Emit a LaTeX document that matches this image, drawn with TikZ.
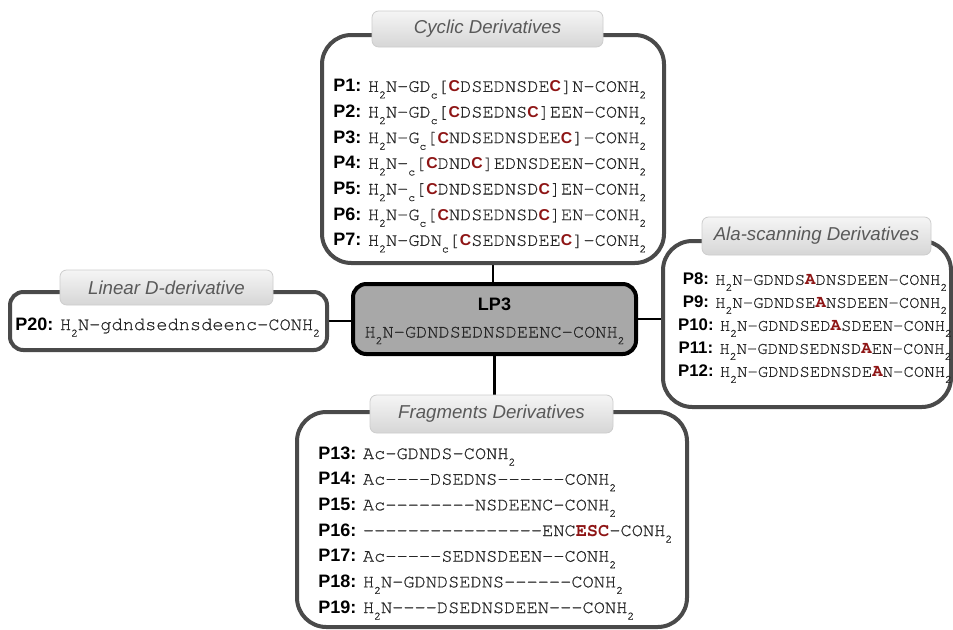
\documentclass[tikz,border=0pt]{standalone}
\usepackage{fontspec}
\setsansfont{Liberation Sans}
\newfontfamily\seqfont{texgyrecursor}[Extension=.otf,UprightFont=*-regular,BoldFont=*-bold,UprightFeatures={FakeBold=0.7}]
\usetikzlibrary{fit}
\definecolor{bord}{HTML}{4A4A4A}
\definecolor{dred}{HTML}{8E1515}
\definecolor{seqc}{HTML}{262626}
\definecolor{ttl}{HTML}{595959}
\definecolor{tabtop}{HTML}{F5F5F5}
\definecolor{tabbot}{HTML}{D6D6D6}
\definecolor{tabline}{HTML}{CDCDCD}
\definecolor{hubfill}{HTML}{A8A8A8}
\newcommand\seqsz{14}
\newcommand\seqtxt[1]{{\seqfont\mdseries\fontsize{\seqsz}{18}\selectfont\color{seqc}#1}}
\newcommand\subx[1]{\raisebox{-0.35em}{\fontsize{8.5}{8.5}\selectfont #1}}
\newcommand\redC{{\sffamily\bfseries\fontsize{11.8}{14}\selectfont\color{dred}C}}
\newcommand\redB[1]{{\bfseries\color{dred}#1}}
\pgfdeclarelayer{bg}
\pgfsetlayers{bg,main}
\begin{document}
\begin{tikzpicture}[x=0.75pt,y=-0.75pt,
  grp/.style={draw=bord,line width=3pt,fill=white,inner sep=0pt,rounded corners=22pt},
  tabbox/.style={draw=tabline,line width=0.6pt,rounded corners=5pt,top color=tabtop,bottom color=tabbot,inner sep=0pt},
  tabtitle/.style={inner sep=0pt,font=\sffamily\itshape\fontsize{14}{16}\selectfont,text=ttl},
  hub/.style={draw=black,line width=3pt,fill=hubfill,rounded corners=10pt,inner sep=0pt},
  link/.style={draw=black,line width=2pt},
  lst/.style={inner sep=0pt,align=left,font=\sffamily\bfseries\fontsize{13.5}{19.25}\selectfont},
]
\useasboundingbox (0,0) rectangle (953,629);
\begin{pgfonlayer}{bg}
\fill[white] (0,0) rectangle (953,629);
\end{pgfonlayer}

% top group
\node[grp,fit={(322,35)(664,263)}] (cyc) {};
\node[tabbox,fit={(372,11)(603,47)}] (cyct) {};
\node[tabtitle] (cyctt) at (cyct.center) {Cyclic Derivatives};
\node[lst,anchor=west] (cyctx) at (333,166) {%
P1: \seqtxt{H\subx{2}N-GD\subx{c}[\redC DSEDNSDE\redC]N-CONH\subx{2}}\\
P2: \seqtxt{H\subx{2}N-GD\subx{c}[\redC DSEDNS\redC]EEN-CONH\subx{2}}\\
P3: \seqtxt{H\subx{2}N-G\subx{c}[\redC NDSEDNSDEE\redC]-CONH\subx{2}}\\
P4: \seqtxt{H\subx{2}N-\subx{c}[\redC DND\redC]EDNSDEEN-CONH\subx{2}}\\
P5: \seqtxt{H\subx{2}N-\subx{c}[\redC DNDSEDNSD\redC]EN-CONH\subx{2}}\\
P6: \seqtxt{H\subx{2}N-G\subx{c}[\redC NDSEDNSD\redC]EN-CONH\subx{2}}\\
P7: \seqtxt{H\subx{2}N-GDN\subx{c}[\redC SEDNSDEE\redC]-CONH\subx{2}}};

% hub
\node[hub,fit={(353,284)(636,354)}] (lp3) {};
\node[inner sep=0pt,align=center,font=\sffamily\bfseries\fontsize{13.5}{20.25}\selectfont] (lp3tx) at (494.5,321) {LP3\\\seqtxt{H\subx{2}N-GDNDSEDNSDEENC-CONH\subx{2}}};

% left group
\node[grp,rounded corners=10pt,fit={(10,292)(327,350)}] (lin) {};
\node[tabbox,fit={(60,270)(273,305)}] (lint) {};
\node[tabtitle] (lintt) at (lint.center) {Linear D-derivative};
\node[lst,anchor=west] (lintx) at (15,327) {P20: \seqtxt{H\subx{2}N-gdndsednsdeenc-CONH\subx{2}}};

% right group
\node[grp,fit={(663,241)(951,407)}] (ala) {};
\node[tabbox,fit={(702,217)(931,255)}] (alat) {};
\node[tabtitle] (alatt) at (alat.center) {Ala-scanning Derivatives};
\node[lst,align=center,font=\def\seqsz{13}\sffamily\bfseries\fontsize{12.6}{17.25}\selectfont] (alatx) at (815,328) {%
P8: \seqtxt{H\subx{2}N-GDNDS\redB{A}DNSDEEN-CONH\subx{2}}\\
P9: \seqtxt{H\subx{2}N-GDNDSE\redB{A}NSDEEN-CONH\subx{2}}\\
P10: \seqtxt{H\subx{2}N-GDNDSED\redB{A}SDEEN-CONH\subx{2}}\\
P11: \seqtxt{H\subx{2}N-GDNDSEDNSD\redB{A}EN-CONH\subx{2}}\\
P12: \seqtxt{H\subx{2}N-GDNDSEDNSDE\redB{A}N-CONH\subx{2}}};

% bottom group
\node[grp,fit={(297,412)(687,627)}] (frag) {};
\node[tabbox,fit={(370,395)(613,433)}] (fragt) {};
\node[tabtitle] (fragtt) at (fragt.center) {Fragments Derivatives};
\node[lst,anchor=west] (fragtx) at (318,533) {%
P13: \seqtxt{Ac-GDNDS-CONH\subx{2}}\\
P14: \seqtxt{Ac----DSEDNS------CONH\subx{2}}\\
P15: \seqtxt{Ac--------NSDEENC-CONH\subx{2}}\\
P16: \seqtxt{----------------ENC\redB{ESC}-CONH\subx{2}}\\
P17: \seqtxt{Ac-----SEDNSDEEN--CONH\subx{2}}\\
P18: \seqtxt{H\subx{2}N-GDNDSEDNS------CONH\subx{2}}\\
P19: \seqtxt{H\subx{2}N----DSEDNSDEEN---CONH\subx{2}}};

% connectors
\begin{pgfonlayer}{bg}
\draw[link] (cyc.south) -- (cyc.south |- lp3.north);
\draw[link] (lin.east) -- (lin.east -| lp3.west);
\draw[link] (lp3.east) -- (lp3.east -| ala.west);
\draw[link] (lp3.south) -- (lp3.south |- fragt.north);
\end{pgfonlayer}
\end{tikzpicture}
\end{document}
